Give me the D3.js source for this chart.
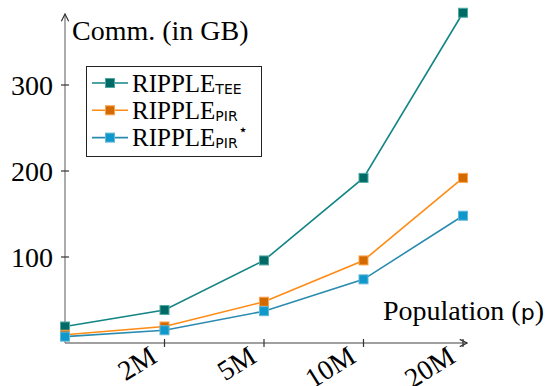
<!DOCTYPE html>
<html>
<head>
<meta charset="utf-8">
<script src="https://cdn.jsdelivr.net/npm/d3@7"></script>
<style>
body{margin:0;background:#fff;}
</style>
</head>
<body>
<svg class="chart" width="549" height="386"></svg>
<script>
const categories = ["1M", "2M", "5M", "10M", "20M"]
const tickLabels = ["2M", "5M", "10M", "20M"]
const yTicks = [100, 200, 300]
const teeValues = [19.2, 38.4, 96, 192, 384]
const pirValues = [9.6, 19.2, 48, 96, 192]
const pirStarValues = [7.4, 14.8, 37, 74, 148]

const series = [
  {name: "RIPPLE", sub: "TEE", sup: "", values: teeValues, line: "#138585", fill: "#006b66", stroke: "#4fa9a3"},
  {name: "RIPPLE", sub: "PIR", sup: "", values: pirValues, line: "#ff8a14", fill: "#d26a00", stroke: "#ffa24a"},
  {name: "RIPPLE", sub: "PIR", sup: "\u22C6", values: pirStarValues, line: "#2a8bb0", fill: "#0e98cb", stroke: "#62b8d8"}
]

const serif = "'Liberation Serif', 'Times New Roman', serif"
const sans = "'DejaVu Sans', sans-serif"

let x = d3.scalePoint()//category positions
    .domain(categories)
    .range([65, 463]);
let y = d3.scaleLinear()
    .domain([0, 300])
    .range([343, 85]);

let svg = d3.select(".chart")

// arrow head for axis ends
svg.append("defs").append("marker")
    .attr("id", "arr")
    .attr("viewBox", "0 0 10 10")
    .attr("refX", 9).attr("refY", 5)
    .attr("markerWidth", 7).attr("markerHeight", 7)
    .attr("orient", "auto")
  .append("path")
    .attr("d", "M1,1 L9,5 L1,9")
    .attr("fill", "none")
    .attr("stroke", "#333")
    .attr("stroke-width", 1.3);

// axes
svg.append("line")//x axis
    .attr("x1", 65).attr("x2", 467)
    .attr("y1", y(0)).attr("y2", y(0))
    .attr("stroke", "#808080").attr("stroke-width", 1.3)
    .attr("marker-end", "url(#arr)");
svg.append("line")//y axis
    .attr("x1", 65).attr("x2", 65)
    .attr("y1", y(0)).attr("y2", 14)
    .attr("stroke", "#808080").attr("stroke-width", 1.3)
    .attr("marker-end", "url(#arr)");

// y ticks
let yt = svg.selectAll(".ytick").data(yTicks).enter().append("g")
    .attr("transform", d => "translate(65," + y(d) + ")");
yt.append("line").attr("x1", -4).attr("x2", 4).attr("stroke", "#333").attr("stroke-width", 1.2);
yt.append("text")
    .attr("x", -12).attr("dy", "0.35em")
    .attr("text-anchor", "end")
    .style("font-family", serif).style("font-size", "28px")
    .text(d => d);

// x ticks
let xt = svg.selectAll(".xtick").data(tickLabels).enter().append("g")
    .attr("transform", d => "translate(" + x(d) + "," + y(0) + ")");
xt.append("line").attr("y1", -4).attr("y2", 4).attr("stroke", "#333").attr("stroke-width", 1.2);
xt.append("text")
    .attr("transform", "translate(-6,18) rotate(-32)")
    .attr("text-anchor", "end")
    .style("font-family", serif).style("font-size", "28px")
    .text(d => d);

// axis labels
svg.append("text")
    .attr("x", 72).attr("y", 40)
    .style("font-family", serif).style("font-size", "28px")
    .text("Comm. (in GB)");
let pop = svg.append("text")
    .attr("x", 383).attr("y", 320)
    .style("font-family", serif).style("font-size", "28px")
    .text("Population (");
pop.append("tspan").style("font-family", sans).style("font-size", "22px").text("p");
pop.append("tspan").text(")");

// lines and markers
let line = d3.line()
    .x((d, i) => x(categories[i]))
    .y(d => y(d));

series.forEach(function(s){
  svg.append("path")
      .attr("d", line(s.values))
      .attr("fill", "none")
      .attr("stroke", s.line)
      .attr("stroke-width", 1.6);
  svg.selectAll(null).data(s.values).enter().append("rect")
      .attr("x", (d, i) => x(categories[i]) - 4.5)
      .attr("y", d => y(d) - 4.5)
      .attr("width", 9).attr("height", 9)
      .attr("fill", s.fill)
      .attr("stroke", s.stroke)
      .attr("stroke-width", 1);
});

// legend
svg.append("rect")//legend box
    .attr("x", 86.5).attr("y", 66.5)
    .attr("width", 175).attr("height", 90)
    .attr("fill", "#fff")
    .attr("stroke", "#222").attr("stroke-width", 1);
let item = svg.selectAll(".leg").data(series).enter().append("g")
    .attr("transform", (d, i) => "translate(92," + (83 + i * 27.3) + ")");
item.append("line")
    .attr("x1", 0).attr("x2", 36)
    .attr("stroke", d => d.line).attr("stroke-width", 1.6);
item.append("rect")
    .attr("x", 13.5).attr("y", -4.5).attr("width", 9).attr("height", 9)
    .attr("fill", d => d.fill).attr("stroke", d => d.stroke);
let lt = item.append("text")
    .attr("x", 40).attr("dy", "0.35em")
    .style("font-family", serif).style("font-size", "25px");
lt.append("tspan").text(d => d.name);
lt.append("tspan")
    .attr("dy", 2)
    .style("font-family", sans).style("font-size", "14px")
    .text(d => d.sub);
lt.append("tspan")
    .attr("dy", -13)
    .style("font-size", "16px")
    .text(d => d.sup);
</script>
</body>
</html>
